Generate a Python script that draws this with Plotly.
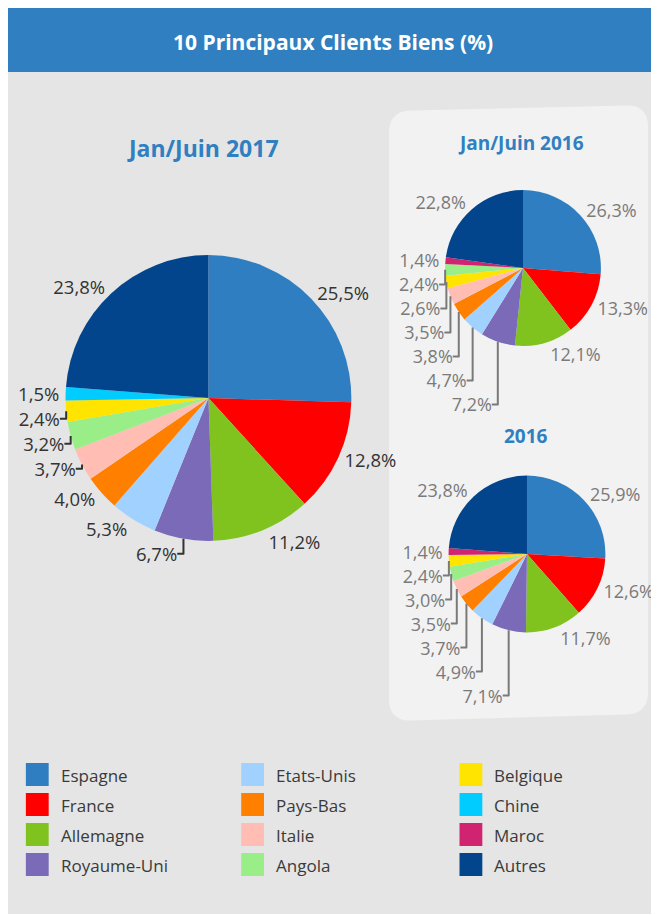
import plotly.graph_objects as go

# page body adds an 8px margin on the left/top; work in page pixel coords
OFF = 8
W, H = 651, 906

# ---------------- data ----------------
title_main = "10 Principaux Clients Biens (%)"

legend_names = ["Espagne", "France", "Allemagne", "Royaume-Uni",
                "Etats-Unis", "Pays-Bas", "Italie", "Angola",
                "Belgique", "Chine", "Maroc", "Autres"]
legend_colors = ["#2E7EC1", "#FF0000", "#80C21E", "#7A6AB8",
                 "#A1D1FF", "#FF8000", "#FFBDB3", "#99EE88",
                 "#FFE400", "#00CCFF", "#D12470", "#03458C"]
color_of = dict(zip(legend_names, legend_colors))

title_2017h1 = "Jan/Juin 2017"
labels_2017h1 = ["Espagne", "France", "Allemagne", "Royaume-Uni", "Etats-Unis",
                 "Pays-Bas", "Italie", "Angola", "Belgique", "Chine", "Autres"]
values_2017h1 = [25.5, 12.8, 11.2, 6.7, 5.3, 4.0, 3.7, 3.2, 2.4, 1.5, 23.8]

title_2016h1 = "Jan/Juin 2016"
labels_2016h1 = ["Espagne", "France", "Allemagne", "Royaume-Uni", "Etats-Unis",
                 "Pays-Bas", "Italie", "Belgique", "Angola", "Maroc", "Autres"]
values_2016h1 = [26.3, 13.3, 12.1, 7.2, 4.7, 3.8, 3.5, 2.6, 2.4, 1.4, 22.8]

title_2016 = "2016"
labels_2016 = ["Espagne", "France", "Allemagne", "Royaume-Uni", "Etats-Unis",
               "Pays-Bas", "Italie", "Angola", "Belgique", "Maroc", "Autres"]
values_2016 = [25.9, 12.6, 11.7, 7.1, 4.9, 3.7, 3.5, 3.0, 2.4, 1.4, 23.8]

FONT = "Open Sans"


def X(px):
    return (px - OFF) / W


def Y(py):
    return 1 - (py - OFF) / H


def dom(cx, cy, r):
    return dict(x=[X(cx - r), X(cx + r)], y=[Y(cy + r), Y(cy - r)])


def pie(labels, values, domain, txtcolor, size):
    return go.Pie(
        labels=labels, values=values, sort=False, direction="clockwise",
        rotation=0, domain=domain, showlegend=False,
        marker=dict(colors=[color_of[l] for l in labels], line=dict(width=0)),
        textposition="outside", texttemplate="%{value:.1f}%",
        outsidetextfont=dict(family=FONT, size=size, color=txtcolor),
        hoverinfo="label+value",
    )


fig = go.Figure()
fig.add_trace(pie(labels_2017h1, values_2017h1, dom(210, 398, 144), "#333333", 18.5))
fig.add_trace(pie(labels_2016h1, values_2016h1, dom(527, 268, 78.5), "#7a7a7a", 18))
fig.add_trace(pie(labels_2016, values_2016, dom(531, 554, 79), "#7a7a7a", 18))

shapes = []
# blue header
shapes.append(dict(type="rect", xref="paper", yref="paper", x0=0, x1=1,
                   y0=Y(72), y1=1, fillcolor="#2F7FC1", line=dict(width=0), layer="below"))

# slightly tilted rounded side panel
tl, tr, br, bl = (392, 111), (653, 105), (653, 714), (392, 721)
rr = 22


def P(pt):
    return f"{X(pt[0]):.5f},{Y(pt[1]):.5f}"


path = (
    f"M {P((tl[0], tl[1] + rr))} "
    f"Q {P(tl)} {P((tl[0] + rr, tl[1] - 0.5))} "
    f"L {P((tr[0] - rr, tr[1] + 0.5))} "
    f"Q {P(tr)} {P((tr[0], tr[1] + rr))} "
    f"L {P((br[0], br[1] - rr))} "
    f"Q {P(br)} {P((br[0] - rr, br[1] + 0.5))} "
    f"L {P((bl[0] + rr, bl[1] - 0.5))} "
    f"Q {P(bl)} {P((bl[0], bl[1] - rr))} Z"
)
shapes.append(dict(type="path", xref="paper", yref="paper", path=path,
                   fillcolor="#F2F2F2", line=dict(width=0), layer="below"))

annotations = []
annotations.append(dict(text=f"<b>{title_main}</b>", x=X(336), y=Y(42), xref="paper", yref="paper",
                        showarrow=False, font=dict(family=FONT, size=21, color="white"),
                        xanchor="center", yanchor="middle"))
annotations.append(dict(text=f"<b>{title_2017h1}</b>", x=X(205), y=Y(148), xref="paper", yref="paper",
                        showarrow=False, font=dict(family=FONT, size=23, color="#2F7FC1"),
                        xanchor="center", yanchor="middle"))
annotations.append(dict(text=f"<b>{title_2016h1}</b>", x=X(525), y=Y(143), xref="paper", yref="paper",
                        showarrow=False, font=dict(family=FONT, size=19, color="#2F7FC1"),
                        xanchor="center", yanchor="middle"))
annotations.append(dict(text=f"<b>{title_2016}</b>", x=X(530), y=Y(436), xref="paper", yref="paper",
                        showarrow=False, font=dict(family=FONT, size=19, color="#2F7FC1"),
                        xanchor="center", yanchor="middle"))

# legend (3 columns x 4 rows, column-major)
col_x = [26, 243, 463]
row_y0, row_dy, sq = 774.5, 30, 23
for i, (name, col) in enumerate(zip(legend_names, legend_colors)):
    c, r = i // 4, i % 4
    cx = col_x[c]
    cy = row_y0 + r * row_dy
    shapes.append(dict(type="rect", xref="paper", yref="paper",
                       x0=X(cx), x1=X(cx + sq), y0=Y(cy + sq / 2), y1=Y(cy - sq / 2),
                       fillcolor=col, line=dict(width=0)))
    annotations.append(dict(text=name, x=X(cx + 33), y=Y(cy + 1), xref="paper", yref="paper",
                            showarrow=False, xanchor="left", yanchor="middle",
                            font=dict(family=FONT, size=17, color="#3a3a3a")))

fig.update_layout(
    width=W, height=H, margin=dict(l=0, r=0, t=0, b=0),
    paper_bgcolor="#E5E5E5", plot_bgcolor="#E5E5E5",
    separators=", ", shapes=shapes, annotations=annotations,
    font=dict(family=FONT),
)

fig.write_html("out.html")
